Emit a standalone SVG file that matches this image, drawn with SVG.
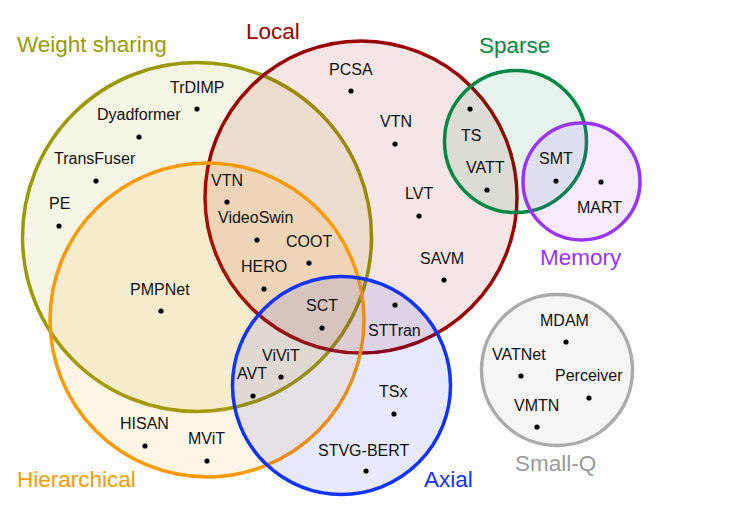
<svg xmlns="http://www.w3.org/2000/svg" width="729" height="508" viewBox="0 0 729 508">
<style>
.set{fill-opacity:0.1;stroke-width:3.5}
.lab{font-family:"Liberation Sans",Arial,sans-serif;font-size:22.5px}
.it{font-family:"Liberation Sans",Arial,sans-serif;font-size:16px;fill:#111}
.dot{fill:#000}
</style>
<rect width="729" height="508" fill="#fff"/>
<g id="set-weight-sharing">
<circle class="set" cx="197" cy="237" r="174.5" fill="#999900" stroke="#999900"/>
<text class="lab" x="17" y="52" fill="#999900">Weight sharing</text>
</g>
<g id="set-local">
<circle class="set" cx="361" cy="197" r="156" fill="#990000" stroke="#990000"/>
<text class="lab" x="246" y="39" fill="#990000">Local</text>
</g>
<g id="set-hierarchical">
<circle class="set" cx="207" cy="320" r="157" fill="#ff9900" stroke="#ff9900"/>
<text class="lab" x="17" y="487" fill="#ff9900">Hierarchical</text>
</g>
<g id="set-axial">
<circle class="set" cx="341.5" cy="385.5" r="109" fill="#1133ff" stroke="#1133ff"/>
<text class="lab" x="424" y="487" fill="#1133ff">Axial</text>
</g>
<g id="set-sparse">
<circle class="set" cx="515.5" cy="141.5" r="71" fill="#008844" stroke="#008844"/>
<text class="lab" x="479" y="53" fill="#008844">Sparse</text>
</g>
<g id="set-memory">
<circle class="set" cx="581.5" cy="181.5" r="58.5" fill="#9933ff" stroke="#9933ff"/>
<text class="lab" x="540" y="265" fill="#9933ff">Memory</text>
</g>
<g id="set-small-q">
<circle class="set" cx="557" cy="370" r="75.5" fill="#999999" stroke="#aaaaaa"/>
<text class="lab" x="515" y="471" fill="#999999">Small-Q</text>
</g>

<g id="item-trdimp"><text class="it" x="170" y="93">TrDIMP</text><circle class="dot" cx="197" cy="109" r="2.6"/></g>
<g id="item-dyadformer"><text class="it" x="97" y="120">Dyadformer</text><circle class="dot" cx="139" cy="137" r="2.6"/></g>
<g id="item-transfuser"><text class="it" x="54" y="164">TransFuser</text><circle class="dot" cx="96" cy="181" r="2.6"/></g>
<g id="item-pe"><text class="it" x="49" y="209">PE</text><circle class="dot" cx="59" cy="226" r="2.6"/></g>
<g id="item-vtn-1"><text class="it" x="211" y="186">VTN</text><circle class="dot" cx="227" cy="202" r="2.6"/></g>
<g id="item-videoswin"><text class="it" x="218" y="223">VideoSwin</text><circle class="dot" cx="257" cy="240" r="2.6"/></g>
<g id="item-coot"><text class="it" x="286" y="247">COOT</text><circle class="dot" cx="309" cy="263" r="2.6"/></g>
<g id="item-pcsa"><text class="it" x="329" y="75">PCSA</text><circle class="dot" cx="351" cy="91" r="2.6"/></g>
<g id="item-vtn-2"><text class="it" x="380" y="127">VTN</text><circle class="dot" cx="395" cy="144" r="2.6"/></g>
<g id="item-ts"><text class="it" x="461" y="141">TS</text><circle class="dot" cx="470" cy="109" r="2.6"/></g>
<g id="item-vatt"><text class="it" x="466" y="173">VATT</text><circle class="dot" cx="487" cy="190" r="2.6"/></g>
<g id="item-smt"><text class="it" x="539" y="164">SMT</text><circle class="dot" cx="556" cy="181" r="2.6"/></g>
<g id="item-mart"><text class="it" x="577" y="213">MART</text><circle class="dot" cx="601" cy="182" r="2.6"/></g>
<g id="item-lvt"><text class="it" x="405" y="199">LVT</text><circle class="dot" cx="419" cy="216" r="2.6"/></g>
<g id="item-savm"><text class="it" x="420" y="264">SAVM</text><circle class="dot" cx="444" cy="280" r="2.6"/></g>
<g id="item-hero"><text class="it" x="241" y="272">HERO</text><circle class="dot" cx="264" cy="289" r="2.6"/></g>
<g id="item-pmpnet"><text class="it" x="130" y="295">PMPNet</text><circle class="dot" cx="161" cy="311" r="2.6"/></g>
<g id="item-sct"><text class="it" x="306" y="311">SCT</text><circle class="dot" cx="322" cy="328" r="2.6"/></g>
<g id="item-sttran"><text class="it" x="368" y="336">STTran</text><circle class="dot" cx="395" cy="305" r="2.6"/></g>
<g id="item-vivit"><text class="it" x="262" y="361">ViViT</text><circle class="dot" cx="281" cy="377" r="2.6"/></g>
<g id="item-avt"><text class="it" x="237" y="379">AVT</text><circle class="dot" cx="253" cy="396" r="2.6"/></g>
<g id="item-hisan"><text class="it" x="120" y="429">HISAN</text><circle class="dot" cx="145" cy="446" r="2.6"/></g>
<g id="item-mvit"><text class="it" x="188" y="444">MViT</text><circle class="dot" cx="207" cy="461" r="2.6"/></g>
<g id="item-tsx"><text class="it" x="379" y="397">TSx</text><circle class="dot" cx="394" cy="414" r="2.6"/></g>
<g id="item-stvg-bert"><text class="it" x="318" y="456">STVG-BERT</text><circle class="dot" cx="366" cy="471" r="2.6"/></g>
<g id="item-mdam"><text class="it" x="540" y="326">MDAM</text><circle class="dot" cx="566" cy="342" r="2.6"/></g>
<g id="item-vatnet"><text class="it" x="492" y="360">VATNet</text><circle class="dot" cx="521" cy="376" r="2.6"/></g>
<g id="item-perceiver"><text class="it" x="555" y="381">Perceiver</text><circle class="dot" cx="589" cy="398" r="2.6"/></g>
<g id="item-vmtn"><text class="it" x="514" y="411">VMTN</text><circle class="dot" cx="537" cy="427" r="2.6"/></g>
</svg>
